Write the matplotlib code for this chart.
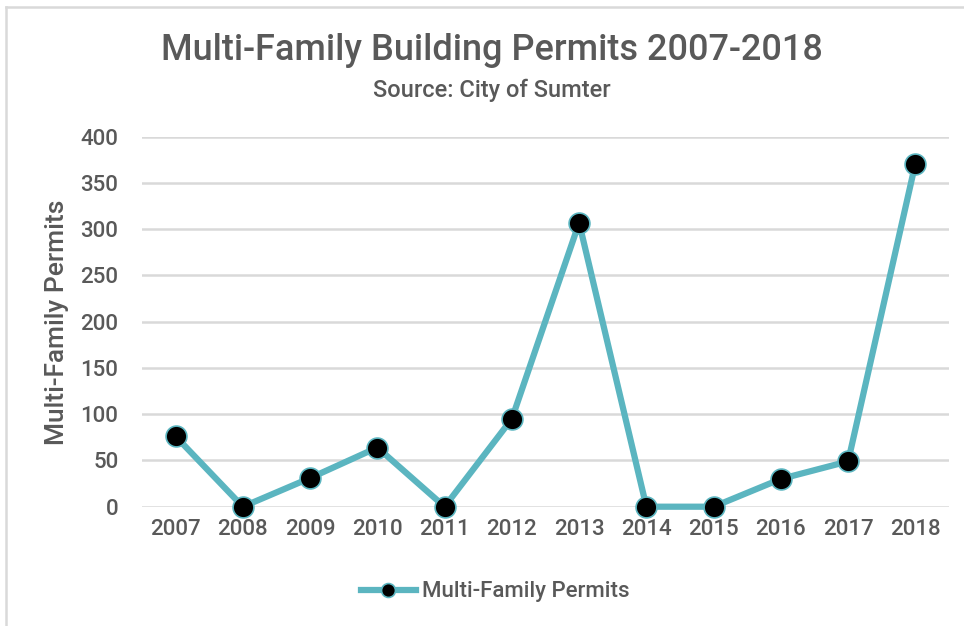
import matplotlib
matplotlib.use("Agg")
import matplotlib.pyplot as plt
from matplotlib.lines import Line2D

years = ["2007", "2008", "2009", "2010", "2011", "2012",
         "2013", "2014", "2015", "2016", "2017", "2018"]
permits = [76, 0, 31, 64, 0, 95, 307, 0, 0, 30, 49, 371]
y_ticks = [0, 50, 100, 150, 200, 250, 300, 350, 400]

TEXT = "#595959"
LINE = "#5bb5c0"
GRID = "#d9d9d9"

plt.rcParams["font.family"] = ["Roboto", "DejaVu Sans"]
plt.rcParams["font.weight"] = "medium"

W, H = 964, 626
fig = plt.figure(figsize=(W / 100, H / 100), dpi=100)
ax = fig.add_axes([142 / W, (H - 506.7) / H, (949 - 142) / W, 370 / H])

x = list(range(len(years)))
ax.plot(x, permits, color=LINE, lw=4.5, marker="o", markersize=15,
        markerfacecolor="black", markeredgecolor=LINE, markeredgewidth=1.2,
        clip_on=False, zorder=3, label="Multi-Family Permits")

ax.set_xlim(-0.5, len(years) - 0.5)
ax.set_ylim(0, 400)
ax.set_yticks(y_ticks)
ax.set_xticks(x)
ax.set_xticklabels(years)
ax.grid(axis="y", color=GRID, lw=1.8)
ax.set_axisbelow(True)
for s in ax.spines.values():
    s.set_visible(False)
ax.tick_params(length=0, labelsize=16, labelcolor=TEXT)
ax.tick_params(axis="y", pad=17)
ax.tick_params(axis="x", pad=9)
ax.set_ylabel("Multi-Family Permits", fontsize=19, color=TEXT,
              fontweight="medium")
ax.yaxis.set_label_coords(69 / W, 1 - 322 / H, transform=fig.transFigure)

fig.text(492 / W, 1 - 50 / H, "Multi-Family Building Permits 2007-2018",
         ha="center", va="center", fontsize=26, color=TEXT)
fig.text(492 / W, 1 - 90 / H, "Source: City of Sumter",
         ha="center", va="center", fontsize=17, color=TEXT)

handle = Line2D([], [], color=LINE, lw=4.5, marker="o", markersize=10,
                markerfacecolor="black", markeredgecolor=LINE,
                markeredgewidth=1.2)
fig.legend([handle], ["Multi-Family Permits"], loc="center",
           bbox_to_anchor=(495 / W, 1 - 592 / H), frameon=False,
           fontsize=16, labelcolor=TEXT, handlelength=2.5, handletextpad=0.25)

# thin frame on the left and top edges
fig.add_artist(Line2D([5.5 / W, 5.5 / W], [0, 1 - 7 / H], color=GRID, lw=1.8,
                      transform=fig.transFigure))
fig.add_artist(Line2D([5.5 / W, 1], [1 - 7 / H, 1 - 7 / H], color=GRID, lw=1.8,
                      transform=fig.transFigure))

fig.savefig("out.png", dpi=100, facecolor="white")
